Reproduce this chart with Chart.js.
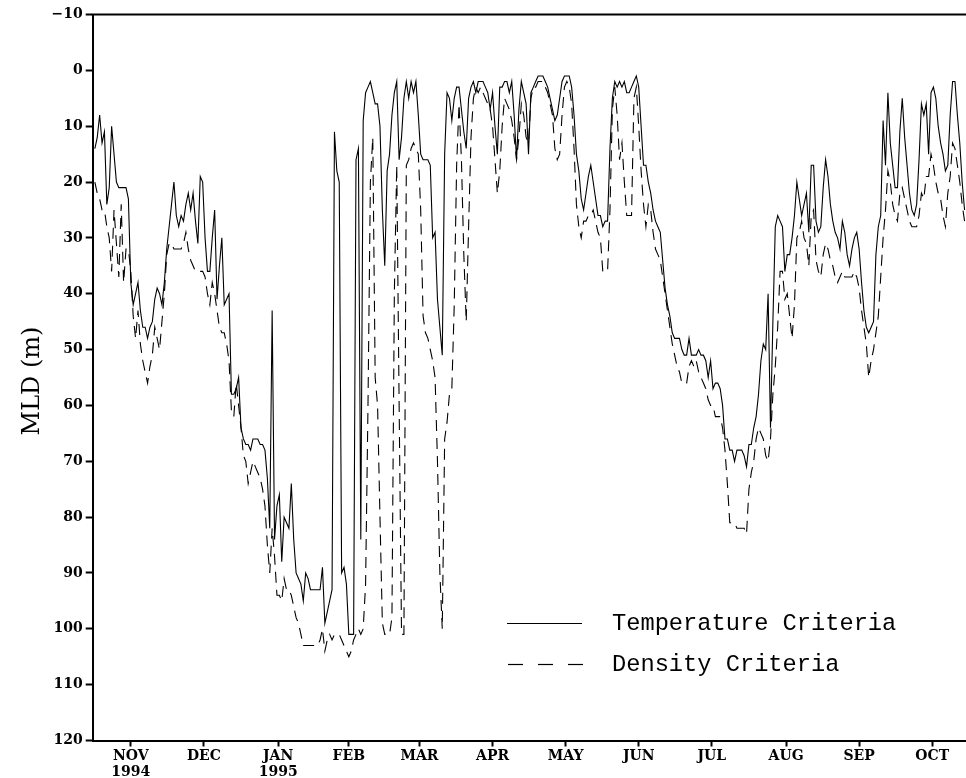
<!DOCTYPE html>
<html>
<head>
<meta charset="utf-8">
<title>MLD</title>
<script src="https://cdn.jsdelivr.net/npm/chart.js@4"></script>
<style>
  html, body { margin: 0; padding: 0; background: #fff; overflow: hidden; }
  #wrap { width: 966px; height: 778px; position: relative; }
</style>
</head>
<body>
<div id="wrap"><canvas id="chart-mld"></canvas></div>
<script>
// day offsets from 1 Nov 1994 where the month labels sit (mid-month)
const monthTicks = [15, 45.5, 76.5, 106, 135.5, 166, 196.5, 227, 257.5, 288.5, 319, 349.5];
const monthLabels = [['NOV', '1994'], 'DEC', ['JAN', '1995'], 'FEB', 'MAR', 'APR', 'MAY', 'JUN', 'JUL', 'AUG', 'SEP', 'OCT'];

// daily mixed layer depth (m), temperature criteria
const tempMld = [
  14, 12, 8, 13, 11, 24, 21, 10, 15, 20,
  21, 21, 21, 21, 23, 38, 42, 40, 38, 43,
  46, 46, 48, 46, 45, 41, 39, 40, 42, 38,
  32, 28, 24, 20, 26, 28, 26, 27, 24, 22,
  25, 22, 27, 31, 19, 20, 30, 36, 36, 30,
  25, 41, 35, 30, 42, 41, 40, 58, 58, 57,
  55, 64, 66, 67, 67, 68, 66, 66, 66, 67,
  67, 68, 73, 82, 43, 84, 78, 76, 88, 80,
  81, 82, 74, 84, 90, 91, 92, 95, 90, 91,
  93, 93, 93, 93, 93, 89, 99, 97, 95, 93,
  11, 18, 20, 90, 89, 92, 101, 101, 101, 16,
  14, 84, 9, 4, 3, 2, 4, 6, 6, 10,
  25, 35, 18, 15, 8, 4, 2, 16, 12, 5,
  2, 5, 2, 4, 2, 8, 15, 16, 16, 16,
  17, 30, 29, 41, 46, 51, 15, 4, 5, 9,
  5, 3, 3, 7, 11, 14, 5, 3, 2, 4,
  2, 2, 2, 3, 4, 7, 4, 10, 15, 3,
  3, 2, 2, 4, 2, 8, 16, 7, 2, 4,
  6, 15, 4, 3, 2, 1, 1, 1, 2, 3,
  5, 7, 9, 8, 5, 2, 1, 1, 1, 3,
  8, 15, 18, 23, 25, 22, 19, 17, 20, 23,
  26, 26, 28, 27, 27, 14, 5, 2, 3, 2,
  3, 2, 4, 4, 3, 2, 1, 3, 10, 17,
  17, 20, 22, 25, 27, 28, 29, 34, 39, 42,
  44, 47, 48, 48, 48, 50, 51, 51, 48, 51,
  51, 51, 50, 51, 51, 52, 55, 52, 57, 56,
  56, 57, 60, 66, 66, 68, 68, 70, 68, 68,
  68, 69, 71, 67, 67, 64, 62, 58, 52, 49,
  50, 40, 64, 45, 28, 26, 27, 28, 36, 33,
  33, 30, 26, 20, 23, 26, 24, 22, 29, 17,
  17, 27, 29, 28, 21, 16, 19, 24, 27, 29,
  30, 32, 27, 29, 33, 35, 32, 30, 29, 32,
  38, 43, 46, 47, 46, 45, 33, 28, 26, 9,
  17, 4, 13, 17, 21, 21, 11, 5, 12, 17,
  22, 25, 26, 24, 16, 6, 8, 6, 15, 4,
  3, 5, 10, 13, 15, 18, 17, 8, 2, 2,
  8, 13, 20, 25
];

// daily mixed layer depth (m), density criteria
const densMld = [
  20, 22, 23, 25, 25, 28, 30, 36, 25, 31,
  37, 24, 38, 32, 32, 36, 44, 48, 43, 49,
  52, 54, 56, 53, 51, 46, 48, 50, 45, 40,
  33, 31, 31, 32, 32, 32, 32, 31, 29, 32,
  34, 35, 36, 36, 36, 36, 37, 40, 42, 38,
  40, 43, 46, 47, 47, 49, 52, 61, 62, 56,
  60, 64, 69, 70, 74, 72, 70, 71, 72, 73,
  75, 78, 85, 90, 82, 87, 94, 94, 95, 91,
  93, 93, 94, 96, 98, 99, 101, 103, 103, 103,
  103, 103, 103, 103, 102, 100, 104, 102, 101, 102,
  101, 101, 101, 102, 103, 104, 105, 104, 102, 101,
  100, 101, 100, 92, 60, 20, 12, 55, 60, 80,
  99, 101, 101, 101, 98, 40, 17, 60, 101, 101,
  17, 16, 14, 13, 14, 15, 25, 44, 47, 48,
  50, 52, 55, 70, 90, 100, 66, 63, 58, 57,
  42, 17, 6, 16, 33, 45, 28, 12, 5, 3,
  4, 3, 4, 5, 6, 7, 10, 16, 22, 18,
  10, 5, 6, 7, 9, 12, 16, 12, 6, 8,
  12, 13, 5, 3, 3, 2, 2, 2, 3, 4,
  6, 8, 14, 16, 15, 8, 3, 2, 3, 6,
  14, 24, 28, 30, 27, 27, 26, 26, 25, 27,
  29, 30, 36, 36, 36, 25, 7, 3, 8, 16,
  13, 20, 26, 26, 26, 5, 3, 10, 18, 24,
  28, 24, 25, 29, 32, 33, 34, 37, 40, 43,
  46, 49, 51, 53, 54, 56, 56, 56, 53, 52,
  53, 52, 54, 55, 56, 57, 59, 60, 60, 62,
  62, 62, 64, 68, 74, 81, 81, 81, 82, 82,
  82, 82, 83, 75, 72, 70, 66, 64, 65, 66,
  69, 70, 66, 58, 53, 46, 36, 36, 41, 40,
  44, 48, 42, 30, 29, 27, 30, 31, 35, 26,
  25, 34, 36, 37, 33, 31, 32, 34, 35, 37,
  38, 37, 36, 37, 37, 37, 37, 36, 37, 39,
  43, 46, 49, 55, 52, 50, 47, 44, 37, 30,
  25, 18, 20, 24, 26, 27, 22, 21, 23, 25,
  27, 28, 28, 28, 26, 22, 23, 19, 19, 15,
  17, 20, 22, 23, 26, 28, 22, 19, 13, 14,
  17, 20, 24, 27
];

const DASH = [11, 7];
const tickFont = { family: '"DejaVu Serif", serif', weight: 'bold', size: 14 };

// top frame line, axis title and the in-plot legend
const decorations = {
    id: 'decorations',
    afterDraw(chart) {
        const { ctx, chartArea: a } = chart;
        ctx.save();
        ctx.strokeStyle = '#000';
        ctx.fillStyle = '#000';

        ctx.lineWidth = 2;
        ctx.beginPath();
        ctx.moveTo(a.left - 1, a.top);
        ctx.lineTo(a.right, a.top);
        ctx.stroke();

        ctx.save();
        ctx.translate(33, 381);
        ctx.rotate(-Math.PI / 2);
        ctx.font = '24px "DejaVu Serif", serif';
        ctx.textAlign = 'center';
        ctx.textBaseline = 'middle';
        ctx.fillText('MLD (m)', 0, 0);
        ctx.restore();

        ctx.lineWidth = 1.2;
        ctx.beginPath();
        ctx.moveTo(507, 623.5);
        ctx.lineTo(582, 623.5);
        ctx.stroke();
        ctx.setLineDash([15, 15]);
        ctx.beginPath();
        ctx.moveTo(508, 664.5);
        ctx.lineTo(588, 664.5);
        ctx.stroke();
        ctx.setLineDash([]);

        ctx.font = '23.7px "Liberation Mono", monospace';
        ctx.textAlign = 'left';
        ctx.textBaseline = 'alphabetic';
        ctx.fillText('Temperature Criteria', 612, 630);
        ctx.fillText('Density Criteria', 612, 671);
        ctx.restore();
    },
};

document.addEventListener('DOMContentLoaded', () => {
    const el = document.getElementById('chart-mld');
    new Chart(el, {
        type: 'line',
        data: {
            datasets: [{
                label: 'Temperature Criteria',
                data: tempMld.map((v, i) => ({ x: i, y: v })),
                borderColor: '#000',
                borderWidth: 1.1,
                pointRadius: 0,
                tension: 0,
                fill: false,
            }, {
                label: 'Density Criteria',
                data: densMld.map((v, i) => ({ x: i, y: v })),
                borderColor: '#000',
                borderWidth: 1.1,
                borderDash: DASH,
                pointRadius: 0,
                tension: 0,
                fill: false,
            }],
        },
        options: {
            responsive: true,
            maintainAspectRatio: false,
            animation: false,
            layout: { padding: { top: 14.5, left: 0, right: 0, bottom: 0 } },
            plugins: {
                legend: { display: false },
                tooltip: { enabled: false },
            },
            scales: {
                x: {
                    type: 'linear',
                    min: -0.9,
                    max: 363.6,
                    afterBuildTicks: (s) => { s.ticks = monthTicks.map(v => ({ value: v })); },
                    afterFit: (s) => { s.height = 37.5; },
                    ticks: {
                        autoSkip: false,
                        maxRotation: 0,
                        color: '#000',
                        font: tickFont,
                        padding: 1,
                        callback: (v, i) => monthLabels[i],
                    },
                    grid: { drawOnChartArea: false, tickLength: 6, tickWidth: 2, color: '#000' },
                    border: { color: '#000', width: 2 },
                },
                y: {
                    reverse: true,
                    min: -10,
                    max: 120,
                    afterFit: (s) => { s.width = 92.7; },
                    ticks: {
                        stepSize: 10,
                        color: '#000',
                        font: tickFont,
                        padding: 3,
                        callback: v => (v < 0 ? '\u2212' + (-v) : String(v)),
                    },
                    grid: { drawOnChartArea: false, tickLength: 7, tickWidth: 2, color: '#000' },
                    border: { color: '#000', width: 2 },
                },
            },
        },
        plugins: [decorations],
    });
});
</script>
</body>
</html>
